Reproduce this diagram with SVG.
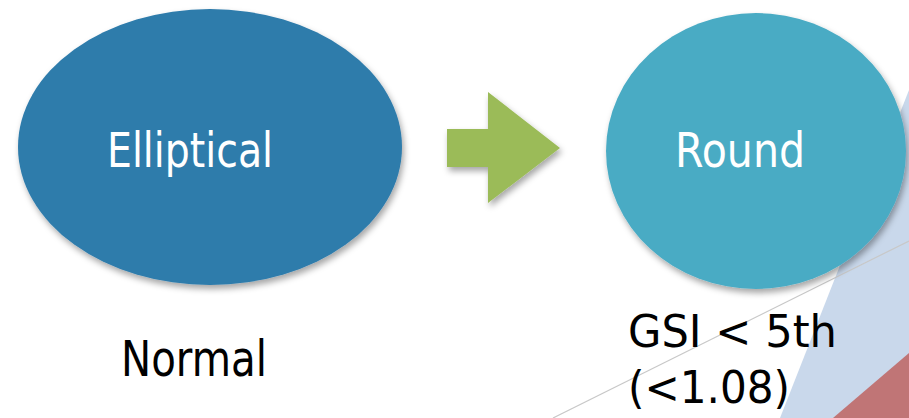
<svg xmlns="http://www.w3.org/2000/svg" width="909" height="418" viewBox="0 0 909 418">
<defs>
<filter id="sh" x="-10%" y="-10%" width="130%" height="130%">
<feDropShadow dx="2" dy="4" stdDeviation="3" flood-color="#000" flood-opacity="0.35"/>
</filter>
<style>
.lbl{font-family:"DejaVu Sans","Liberation Sans",sans-serif;fill:#fff}
.cap{font-family:"DejaVu Sans","Liberation Sans",sans-serif;fill:#000}
</style>
</defs>
<rect width="909" height="418" fill="#fff"/>
<g id="background">
<polygon points="909,90 780,418 909,418" fill="#c9d8eb"/>
<polygon points="833,418 909,353 909,418" fill="#c07576"/>
<line x1="553" y1="418" x2="909" y2="241" stroke="#c8c8c8" stroke-width="1.2"/>
</g>
<g id="node-elliptical">
<ellipse cx="210" cy="147" rx="192" ry="138" fill="#2e7bab" filter="url(#sh)"/>
<text class="lbl" x="107" y="167" font-size="48" textLength="166" lengthAdjust="spacingAndGlyphs">Elliptical</text>
</g>
<g id="node-round">
<ellipse cx="756" cy="151" rx="150" ry="138" fill="#4aabc4" filter="url(#sh)"/>
<text class="lbl" x="675" y="167" font-size="48" textLength="130" lengthAdjust="spacingAndGlyphs">Round</text>
</g>
<g id="label-normal">
<text class="cap" x="121" y="376" font-size="49" textLength="146" lengthAdjust="spacingAndGlyphs">Normal</text>
</g>
<g id="label-gsi">
<text class="cap" x="628" y="347" font-size="45" textLength="209" lengthAdjust="spacingAndGlyphs">GSI &lt; 5th</text>
<text class="cap" x="628" y="403" font-size="45" textLength="162" lengthAdjust="spacingAndGlyphs">(&lt;1.08)</text>
</g>
<g id="connectors">
<polygon points="447,129 488,129 488,92 560,148 488,203 488,167 447,167" fill="#9bbb59" filter="url(#sh)"/>
</g>
</svg>
